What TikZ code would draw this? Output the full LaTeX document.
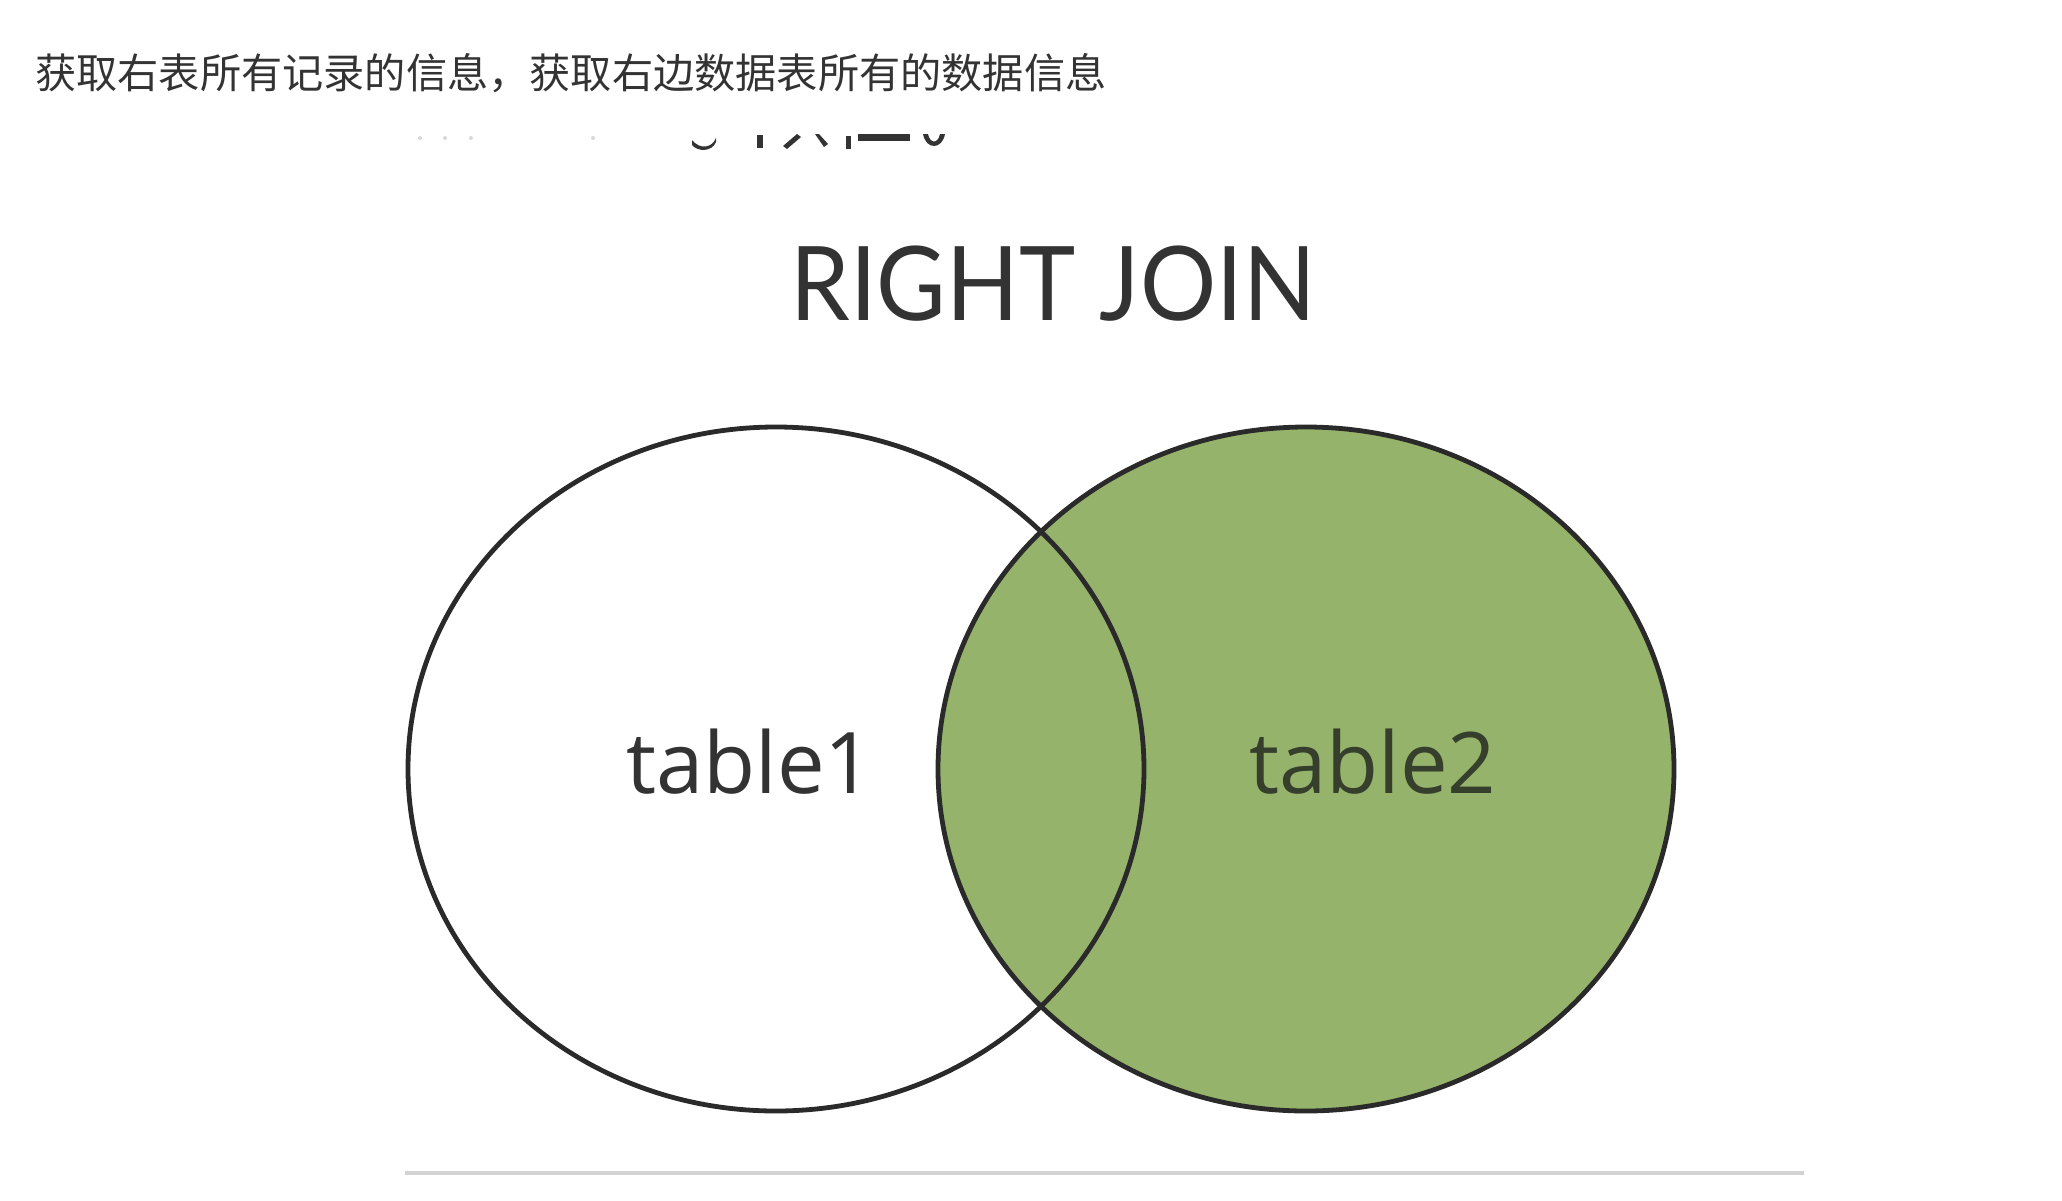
\documentclass[tikz,border=0pt]{standalone}
\usepackage{fontspec}
\newfontfamily\cjk{Noto Sans CJK SC}
\newfontfamily\labelfont{Open Sans}
\newfontfamily\titlefont{Lato}
\definecolor{vgreen}{HTML}{96B36B}
\definecolor{vline}{HTML}{2A2A2A}
\definecolor{vtext}{HTML}{333333}
\definecolor{vtexttwo}{HTML}{363F2C}
\definecolor{rule}{HTML}{D2D2D2}
\begin{document}
\begin{tikzpicture}[x=0.5pt,y=-0.5pt,
  setline/.style={draw=vline,line width=2.4pt},
  caption/.style={font=\cjk\fontsize{20.6}{24}\selectfont,text=vtext,inner sep=0pt},
  title/.style={font=\titlefont\fontsize{51.5}{60}\selectfont,text=vtext,inner sep=0pt},
  setlabel/.style={font=\labelfont\fontsize{42.5}{48}\selectfont,inner sep=0pt},
  frag/.style={fill=vtext}]
\useasboundingbox (0,0) rectangle (2062,1200);
\fill[white] (0,0) rectangle (2062,1200);

% caption
\node[caption,anchor=base west] (cap) at (35,88) {获取右表所有记录的信息，获取右边数据表所有的数据信息};

% cut-off text fragments
\fill[frag] (692,140) .. controls (700,150) and (712,148) .. (716,138) -- (716,142) .. controls (712,152) and (698,152) .. (692,145) -- cycle;
\fill[frag] (757,135) rectangle (763,148);
\fill[frag] (783,146) -- (797,134) -- (801,137) -- (787,149) -- cycle;
\fill[frag] (815,134) -- (819,134) -- (828,144) -- (824,147) -- cycle;
\fill[frag] (846,136) rectangle (851,149);
\fill[frag] (858,134) rectangle (910,141);
\fill[frag] (923,134) .. controls (926,150) and (942,150) .. (945,134) -- (940,134) .. controls (938,144) and (930,144) .. (928,134) -- cycle;
\fill[black!15] (420,138) circle (2);
\fill[black!15] (445,138) circle (2);
\fill[black!15] (471,138) circle (2);
\fill[black!15] (593,138) circle (2);

% title
\node[title,anchor=base] (ttl) at (1053,320) {\scalebox{0.925}[1]{RIGHT JOIN}};

% Venn diagram
\fill[vgreen] (1306,769) ellipse [x radius=368, y radius=342];
\draw[setline] (776,769) ellipse [x radius=368, y radius=342];
\draw[setline] (1306,769) ellipse [x radius=368, y radius=342];

\node[setlabel,text=vtext,anchor=base] (t1) at (750,793) {table1};
\node[setlabel,text=vtexttwo,anchor=base] (t2) at (1373,793) {table2};

% bottom rule
\draw[rule,line width=2pt] (405,1173) -- (1804,1173);
\end{tikzpicture}
\end{document}
